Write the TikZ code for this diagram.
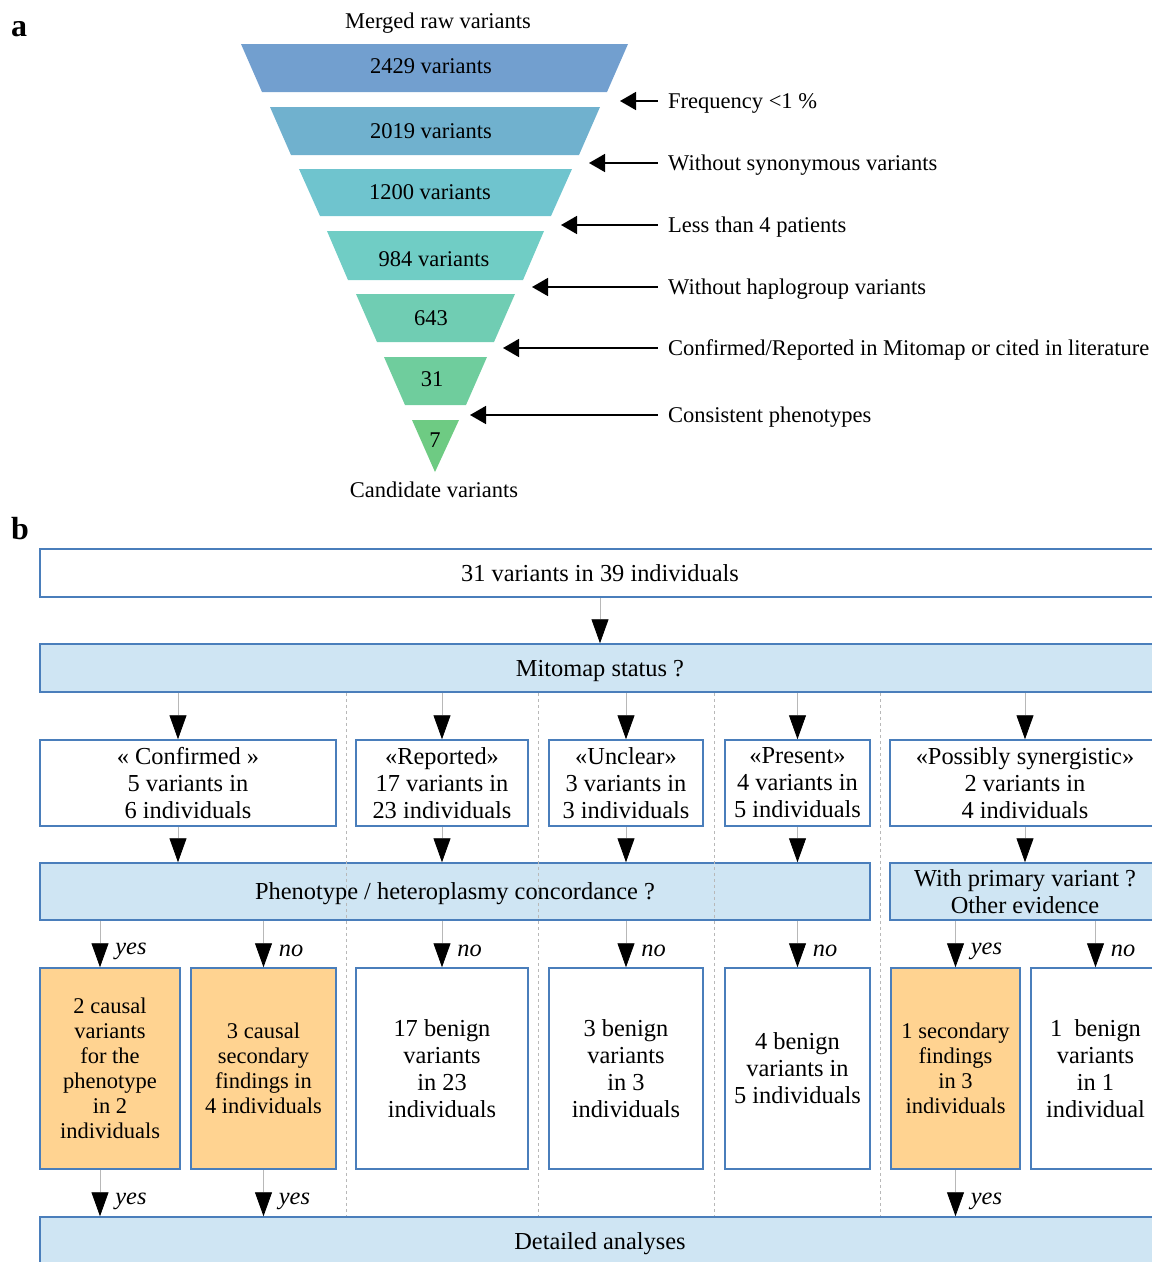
\documentclass[tikz,border=0pt]{standalone}
\usepackage{fontspec}
\setmainfont{Liberation Serif}
\usetikzlibrary{arrows.meta, positioning, calc}
\definecolor{boxline}{HTML}{4A7EBB}
\definecolor{qfill}{HTML}{CFE5F3}
\definecolor{hit}{HTML}{FFD391}
\definecolor{guide}{HTML}{B8B8B8}
\definecolor{f1}{HTML}{729FCF}
\definecolor{f2}{HTML}{70B1CE}
\definecolor{f3}{HTML}{6FC4CE}
\definecolor{f4}{HTML}{70CDC5}
\definecolor{f5}{HTML}{70CDB3}
\definecolor{f6}{HTML}{6FCD9D}
\definecolor{f7}{HTML}{6ECB83}

\begin{document}
\begin{tikzpicture}[x=1pt, y=-1pt,
    every node/.style={font=\fontsize{24.4}{27}\selectfont},
    box/.style={rectangle, draw=boxline, line width=1.5pt, fill=white, align=center, inner sep=2pt},
    qbox/.style={box, fill=qfill},
    hbox/.style={box, fill=hit, font=\fontsize{22.5}{25}\selectfont},
    oneline/.style={text height=21.7pt, text depth=5.3pt},
    arr/.style={guide, line width=0.8pt, -{Triangle[length=24pt, width=17pt, color=black]}},
    farr/.style={line width=1.6pt, {Triangle[length=16pt, width=18pt]}-},
    ans/.style={font=\fontsize{24.4}{27}\selectfont\itshape, text=black, anchor=west, inner sep=0pt, xshift=15pt},
    sep/.style={guide, line width=0.8pt, dash pattern=on 3pt off 3pt},
    tier/.style={inner sep=0pt, font=\fontsize{22.5}{25}\selectfont},
    filt/.style={anchor=west, inner sep=0pt, text height=20pt, text depth=4.9pt, font=\fontsize{22.5}{25}\selectfont},
]
    \useasboundingbox (0,0) rectangle (1152,1262);

    % panel a: filtering funnel
    \node[font=\fontsize{32}{32}\selectfont\bfseries] (la) at (19,29) {a};
    \node[tier, text height=20pt, text depth=4.9pt] (top) at (438,21) {Merged raw variants};
    \foreach \yt/\yb/\xl/\xr/\tx/\ty/\col/\txt [count=\i] in {
        44/92/241/628/431/66.5/f1/2429 variants,
        107/155/270/600/431/131/f2/2019 variants,
        169/216/299/572/430/192/f3/1200 variants,
        231/280/327/544/434/259/f4/984 variants,
        294/342/356/515/431/318/f5/643,
        357/405/384/487/432/379/f6/31} {
        \fill[\col] (\xl,\yt) -- (\xr,\yt) -- ({\xr-21},\yb) -- ({\xl+21},\yb) -- cycle;
        \node[tier] (tier\i) at (\tx,\ty) {\txt};
    }
    \fill[f7] (412,420) -- (459,420) -- (435,472) -- cycle;
    \node[tier] (tier7) at (435,440) {7};
    \node[tier] (bottom) at (434,490) {Candidate variants};

    \foreach \y/\tip/\txt [count=\i] in {
        101/620/{Frequency <1 \%},
        163/589/{Without synonymous variants},
        225/561/{Less than 4 patients},
        287/532/{Without haplogroup variants},
        348/503/{Confirmed/Reported in Mitomap or cited in literature},
        415/470/{Consistent phenotypes}} {
        \node[filt] (flt\i) at (668,\y) {\txt};
        \coordinate (tip\i) at (\tip,\y);
        \draw[farr] (tip\i) -- ([xshift=-10pt]flt\i.west);
    }

    % panel b: classification
    \node[font=\fontsize{32}{32}\selectfont\bfseries] (lb) at (20,529) {b};
    \node[box, oneline, minimum width=1120, minimum height=48] (all) at (600,573) {31 variants in 39 individuals};
    \node[qbox, oneline, minimum width=1120, minimum height=48] (mito) at (600,668) {Mitomap status ?};

    \node[box, minimum width=296, minimum height=86] (conf) at (188,783) {« Confirmed »\\5 variants in\\6 individuals};
    \node[box, minimum width=172, minimum height=86] (rep) at (442,783) {«Reported»\\17 variants in\\23 individuals};
    \node[box, minimum width=154, minimum height=86] (unc) at (626,783) {«Unclear»\\3 variants in\\3 individuals};
    \node[box, minimum width=145, minimum height=86] (pres) at (797.5,783) {«Present»\\4 variants in\\5 individuals};
    \node[box, minimum width=270, minimum height=86] (syn) at (1025,783) {«Possibly synergistic»\\2 variants in\\4 individuals};

    \node[qbox, oneline, minimum width=830, minimum height=57] (pheno) at (455,891.5) {Phenotype / heteroplasmy concordance ?};
    \node[qbox, minimum width=270, minimum height=57] (prim) at (1025,891.5) {With primary variant ?\\Other evidence};

    \node[hbox, minimum width=140, minimum height=201] (caus) at (110,1068.5) {2 causal\\variants\\for the\\phenotype\\in 2\\individuals};
    \node[hbox, minimum width=145, minimum height=201] (sec) at (263.5,1068.5) {3 causal\\secondary\\findings in\\4 individuals};
    \node[box, minimum width=172, minimum height=201] (ben1) at (442,1068.5) {17 benign\\variants\\in 23\\individuals};
    \node[box, minimum width=154, minimum height=201] (ben2) at (626,1068.5) {3 benign\\variants\\in 3\\individuals};
    \node[box, minimum width=145, minimum height=201] (ben3) at (797.5,1068.5) {4 benign\\variants in\\5 individuals};
    \node[hbox, minimum width=129, minimum height=201] (sec2) at (955.5,1068.5) {1 secondary\\findings\\in 3\\individuals};
    \node[box, minimum width=129, minimum height=201] (ben4) at (1095.5,1068.5) {1\ \ benign\\variants\\in 1\\individual};

    \node[qbox, oneline, minimum width=1120, minimum height=48] (det) at (600,1241) {Detailed analyses};

    % connectors
    \coordinate (cin) at ([xshift=-10pt]conf.north);
    \coordinate (cout) at ([xshift=-10pt]conf.south);
    \coordinate (ain) at ([xshift=-10pt]caus.north);
    \coordinate (aout) at ([xshift=-10pt]caus.south);

    \draw[arr] (all) -- (mito);
    \draw[arr] (mito.south -| cin) -- (cin);
    \foreach \b in {rep, unc, pres, syn}
        \draw[arr] (mito.south -| \b.north) -- (\b.north);
    \draw[arr] (cout) -- (pheno.north -| cout);
    \foreach \b in {rep, unc, pres}
        \draw[arr] (\b.south) -- (pheno.north -| \b.south);
    \draw[arr] (syn) -- (prim);

    \draw[arr] (pheno.south -| ain) -- (ain) node[midway, ans, yshift=-7pt] {yes};
    \foreach \b/\a in {sec/no, ben1/no, ben2/no, ben3/no}
        \draw[arr] (pheno.south -| \b.north) -- (\b.north) node[midway, ans, yshift=-7pt] {\a};
    \draw[arr] (prim.south -| sec2.north) -- (sec2.north) node[midway, ans, yshift=-7pt] {yes};
    \draw[arr] (prim.south -| ben4.north) -- (ben4.north) node[midway, ans, yshift=-7pt] {no};

    \draw[arr] (aout) -- (det.north -| aout) node[midway, ans, yshift=-8pt] {yes};
    \draw[arr] (sec.south) -- (det.north -| sec.south) node[midway, ans, yshift=-8pt] {yes};
    \draw[arr] (sec2.south) -- (det.north -| sec2.south) node[midway, ans, yshift=-8pt] {yes};

    % column separators
    \foreach \l/\r [count=\i] in {conf/rep, rep/unc, unc/pres, pres/syn} {
        \path ($(\l.east)!0.5!(\r.west)$) coordinate (gap\i);
        \draw[sep] (mito.south -| gap\i) -- (det.north -| gap\i);
    }
\end{tikzpicture}
\end{document}
